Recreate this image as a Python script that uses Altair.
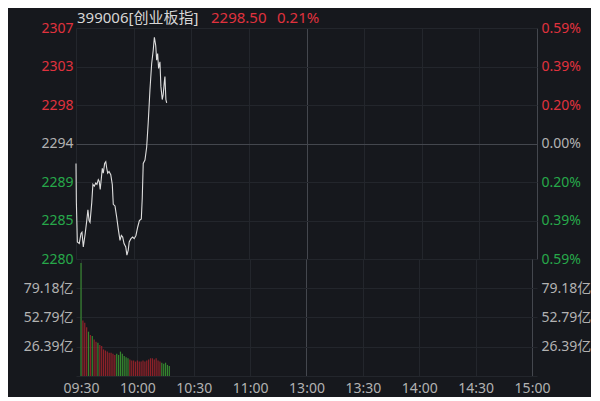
import altair as alt
import pandas as pd

# ---------------- data ----------------
title_code = "399006[创业板指]"
last_price = "2298.50"
last_pct = "0.21%"

prev_close = 2293.68
price_ticks = [2280.15, 2284.66, 2289.17, 2293.68, 2298.19, 2302.70, 2307.21]

time_ticks = [0, 30, 60, 90, 120, 150, 180, 210, 240]
time_labels = ["09:30", "10:00", "10:30", "11:00", "13:00", "13:30", "14:00", "14:30", "15:00"]

line_minutes = [0.0, 0.2, 0.7, 1.7, 2.6, 3.1, 3.8, 4.8, 5.6, 6.2, 6.8, 7.3, 8.2, 8.8,
                9.5, 10.3, 10.9, 11.6, 12.1, 12.6, 13.2, 13.7, 14.2, 14.9, 15.5, 16.0,
                16.5, 17.2, 18.1, 18.9, 19.4, 20.3, 21.2, 22.0, 22.9, 23.6, 24.3, 25.0,
                25.9, 26.5, 27.2, 27.7, 28.6, 29.5, 30.3, 31.2, 32.1, 33.0, 34.0, 34.5,
                35.0, 35.9, 36.8, 37.6, 38.5, 39.4, 40.2, 40.8, 41.5, 42.0, 42.5, 43.0,
                43.7, 44.2, 44.9, 45.4, 46.0, 46.3, 46.8, 47.2]
line_prices = [2291.35, 2286.75, 2282.14, 2281.96, 2283.14, 2283.29, 2281.57, 2283.14,
               2284.64, 2285.91, 2284.64, 2284.44, 2286.75, 2288.90, 2288.67, 2289.05,
               2288.90, 2289.44, 2289.24, 2288.29, 2289.62, 2290.78, 2290.20, 2291.35,
               2291.55, 2290.78, 2290.20, 2290.40, 2290.02, 2288.86, 2286.56, 2286.37,
               2285.02, 2283.68, 2282.34, 2282.91, 2282.72, 2281.96, 2281.57, 2280.61,
               2281.19, 2282.14, 2282.53, 2282.72, 2282.53, 2282.91, 2283.87, 2284.64,
               2284.84, 2287.32, 2291.35, 2291.74, 2293.27, 2296.15, 2299.98, 2303.06,
               2304.59, 2306.13, 2305.16, 2303.44, 2304.21, 2302.48, 2303.25, 2300.37,
               2298.83, 2299.41, 2300.95, 2301.53, 2298.83, 2298.45]

vol_minutes = list(range(48))
vol_values = [102, 50, 48, 44, 40, 37, 36, 33, 31, 30, 28, 27, 24, 23, 22, 21,
              21, 20, 19, 20, 19, 22, 20, 18, 17, 16, 15, 14, 14, 13, 14, 13,
              13, 14, 13, 14, 15, 16, 16, 15, 16, 14, 13, 12, 11, 12, 10, 9]
vol_dir = ["down", "up", "up", "up", "down", "up", "down", "up", "up", "down", "up", "up",
           "up", "up", "up", "up", "up", "up", "up", "down", "down", "down", "down", "down",
           "down", "down", "up", "up", "up", "up", "up", "up", "up", "up", "up", "up",
           "up", "up", "up", "up", "up", "up", "up", "down", "down", "down", "down", "down"]
vol_ticks = [0, 26.39, 52.79, 79.18]

# ---------------- style ----------------
BG = "#16181d"
GRID = "#23262c"
GRID_HI = "#44474e"
RED = "#e0323e"
GREEN = "#27a84a"
GREY = "#b2b2b2"
LINE = "#dedede"
FONT = "'Noto Sans', 'Noto Sans CJK SC', sans-serif"

W = 461
H_PRICE = 231
H_VOL = 117

price_df = pd.DataFrame({"m": line_minutes, "p": line_prices})
vol_df = pd.DataFrame({"m": vol_minutes, "v": vol_values, "d": vol_dir})

x_label_expr = " : ".join(
    f"datum.value == {t} ? '{l}'" for t, l in zip(time_ticks, time_labels)
) + " : ''"

price_color = {
    "condition": [
        {"test": f"datum.value > {prev_close + 0.5}", "value": RED},
        {"test": f"datum.value < {prev_close - 0.5}", "value": GREEN},
    ],
    "value": GREY,
}
price_grid_color = {
    "condition": {"test": f"abs(datum.value - {prev_close}) < 0.05", "value": GRID_HI},
    "value": GRID,
}
x_grid_color = {
    "condition": {"test": "datum.value == 120 || datum.value == 240", "value": GRID_HI},
    "value": GRID,
}

x_scale = alt.Scale(domain=[0, 240], nice=False, zero=False)
p_scale = alt.Scale(domain=[price_ticks[0], price_ticks[-1]], nice=False, zero=False)

x_grid_axis = alt.Axis(values=time_ticks, labels=False, ticks=False, domain=False,
                       grid=True, gridColor=x_grid_color, title=None,
                       minExtent=0, maxExtent=0)
x_label_axis = alt.Axis(values=time_ticks, labelExpr=x_label_expr, ticks=False,
                        domain=False, grid=True, gridColor=x_grid_color, title=None,
                        labelColor=GREY, labelPadding=5, labelFlush=False)

price_line = alt.Chart(price_df).mark_line(color=LINE, strokeWidth=1.1).encode(
    x=alt.X("m:Q", scale=x_scale, axis=x_grid_axis),
    y=alt.Y("p:Q", scale=p_scale,
            axis=alt.Axis(values=price_ticks, format=".0f", orient="left", grid=True,
                          gridColor=price_grid_color, labelColor=price_color,
                          labelPadding=3, title=None, minExtent=60, maxExtent=60)),
)
price_right = alt.Chart(price_df).mark_line(opacity=0).encode(
    x=alt.X("m:Q", scale=x_scale, axis=x_grid_axis),
    y=alt.Y("p:Q", scale=p_scale,
            axis=alt.Axis(values=price_ticks, orient="right", grid=False,
                          labelExpr=f"format(abs(datum.value / {prev_close} - 1) * 100, '.2f') + '%'",
                          labelColor=price_color, labelPadding=4, title=None,
                          minExtent=48, maxExtent=48)),
)

title_df = pd.DataFrame({"t": [title_code, last_price, last_pct],
                         "k": ["code", "price", "pct"]})
title_code_mark = alt.Chart(title_df).transform_filter("datum.k == 'code'").mark_text(
    align="left", baseline="middle", fontSize=15, font=FONT, color="#d6d6d6"
).encode(text="t:N", x=alt.value(1), y=alt.value(-10))
title_price_mark = alt.Chart(title_df).transform_filter("datum.k == 'price'").mark_text(
    align="left", baseline="middle", fontSize=15, font=FONT, color=RED
).encode(text="t:N", x=alt.value(135), y=alt.value(-10))
title_pct_mark = alt.Chart(title_df).transform_filter("datum.k == 'pct'").mark_text(
    align="left", baseline="middle", fontSize=15, font=FONT, color=RED
).encode(text="t:N", x=alt.value(201), y=alt.value(-10))

price_chart = alt.layer(
    price_line, price_right, title_code_mark, title_price_mark, title_pct_mark
).resolve_axis(y="independent").properties(width=W, height=H_PRICE)

v_scale = alt.Scale(domain=[0, 105.57], nice=False, zero=True)
vol_label_expr = "datum.value == 0 ? '' : format(datum.value, '.2f') + '亿'"

vol_bars = alt.Chart(vol_df).mark_bar(width=1.2, opacity=0.85).encode(
    x=alt.X("m:Q", scale=x_scale, axis=x_label_axis),
    y=alt.Y("v:Q", scale=v_scale,
            axis=alt.Axis(values=vol_ticks, labelExpr=vol_label_expr, orient="left",
                          grid=True, gridColor=GRID, labelColor=GREY, labelPadding=3,
                          title=None, minExtent=60, maxExtent=60)),
    color=alt.Color("d:N", scale=alt.Scale(domain=["up", "down"], range=["#a3232b", "#3c9a33"]),
                    legend=None),
)
vol_right = alt.Chart(vol_df).mark_bar(width=1, opacity=0).encode(
    x=alt.X("m:Q", scale=x_scale, axis=x_label_axis),
    y=alt.Y("v:Q", scale=v_scale,
            axis=alt.Axis(values=vol_ticks, labelExpr=vol_label_expr, orient="right",
                          grid=False, labelColor=GREY, labelPadding=4, title=None,
                          minExtent=48, maxExtent=48)),
)
vol_chart = alt.layer(vol_bars, vol_right).resolve_axis(y="independent").properties(
    width=W, height=H_VOL)

chart = alt.vconcat(price_chart, vol_chart, spacing=0, bounds="flush").properties(
    padding={"left": 8, "top": 3, "right": 0, "bottom": 2}
).configure(background=BG).configure_view(strokeWidth=0).configure_axis(
    labelFont=FONT, labelFontSize=14, domain=False, ticks=False, gridWidth=1
)

chart.save("out.html", embed_options={"renderer": "svg", "actions": False})
